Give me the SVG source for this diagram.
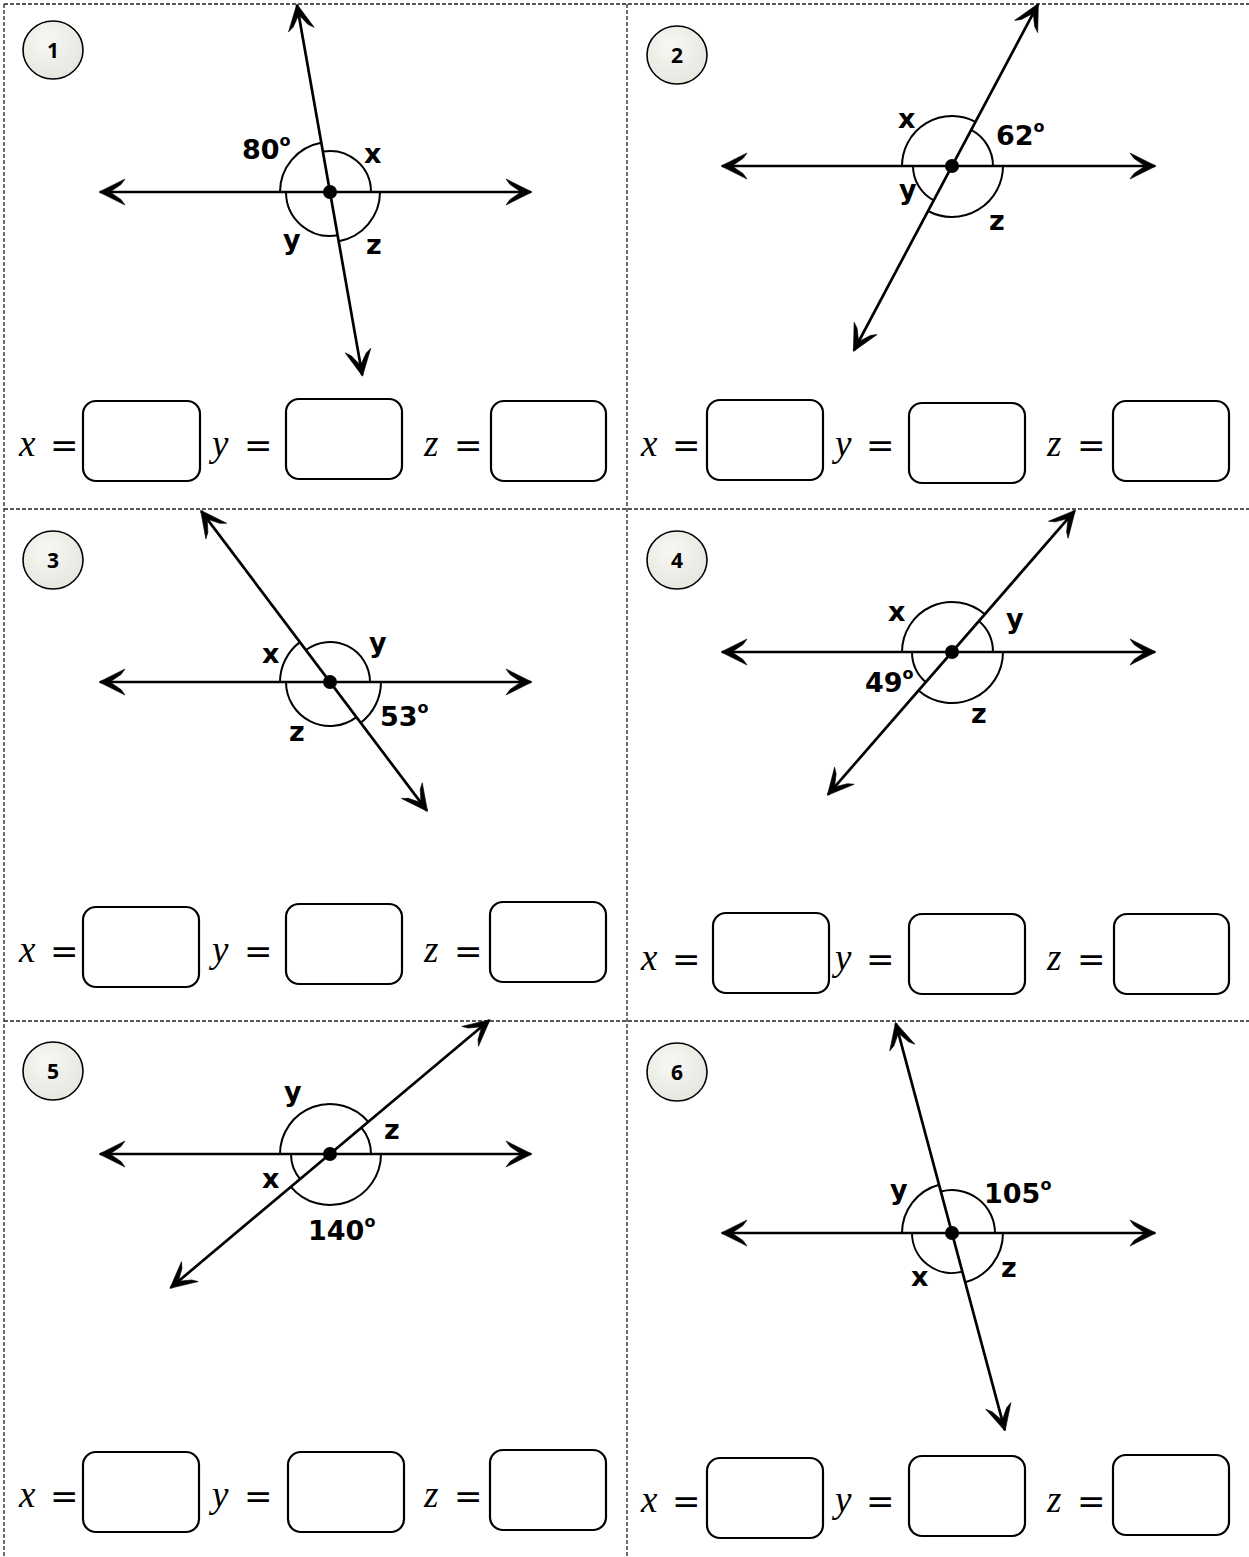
<svg xmlns="http://www.w3.org/2000/svg" width="1249" height="1557" viewBox="0 0 1249 1557">
<defs>
<marker id="ah" viewBox="-28 -15 30 30" markerWidth="30" markerHeight="30" refX="0" refY="0" orient="auto-start-reverse" markerUnits="userSpaceOnUse">
<path d="M1,0 L-25,-13 L-21,-7.5 L-10,0 L-21,7.5 L-25,13 Z" fill="#000" stroke="#000" stroke-width="0.6" stroke-linejoin="round"/>
</marker>
<radialGradient id="cg" cx="0.4" cy="0.35" r="0.7">
<stop offset="0" stop-color="#f7f7f4"/>
<stop offset="1" stop-color="#e6e6df"/>
</radialGradient>
</defs>
<style>
.bd{stroke:#222;stroke-width:1.3;stroke-dasharray:4 2;fill:none}
.ln{stroke:#000;stroke-width:2.7;fill:none;marker-start:url(#ah);marker-end:url(#ah)}
.arc{stroke:#000;stroke-width:2;fill:none}
.dot{fill:#000}
.lb{font-family:"DejaVu Sans",sans-serif;font-weight:bold;font-size:27px;fill:#000}
.sup{font-size:16px}
.num{font-family:"Open Sans","DejaVu Sans",sans-serif;font-weight:bold;font-size:21px;text-anchor:middle;fill:#000}
.nc{fill:url(#cg);stroke:#000;stroke-width:1.6}
.v{font-family:"Liberation Serif",serif;font-style:italic;font-size:37px;fill:#000}
.eq{font-family:"DejaVu Serif",serif;font-size:34px;fill:#000}
.bx{fill:#fff;stroke:#000;stroke-width:2.2}
</style>
<rect width="1249" height="1557" fill="#fff"/>
<g id="borders">
<path class="bd" d="M4,4 H1249 M4,4 V1557 M627,4 V1557 M4,509 H1249 M4,1021 H1249"/>
</g>

<g id="connectors">
<line class="ln" x1="100" y1="192" x2="531" y2="192"/>
<line class="ln" x1="297" y1="5" x2="362.3" y2="375.2"/>
<line class="ln" x1="722" y1="166" x2="1155" y2="166"/>
<line class="ln" x1="1037.9" y1="4.4" x2="853.9" y2="350.5"/>
<line class="ln" x1="100" y1="682" x2="531" y2="682"/>
<line class="ln" x1="201.2" y1="511.1" x2="426.9" y2="810.6"/>
<line class="ln" x1="722" y1="652" x2="1155" y2="652"/>
<line class="ln" x1="1074.7" y1="510.9" x2="828" y2="794.6"/>
<line class="ln" x1="100" y1="1154" x2="531" y2="1154"/>
<line class="ln" x1="489.3" y1="1020.3" x2="170.7" y2="1287.7"/>
<line class="ln" x1="722" y1="1233" x2="1155" y2="1233"/>
<line class="ln" x1="895.8" y1="1023.4" x2="1004.8" y2="1430.1"/>
</g>

<g id="panel1">
<ellipse class="nc" cx="53" cy="50" rx="30" ry="29"/>
<text class="num" x="53" y="58">1</text>
<path class="arc" d="M280,192 A50,50 0 0 1 321.3,142.8"/>
<path class="arc" d="M322.9,151.6 A41,41 0 0 1 371,192"/>
<path class="arc" d="M286,192 A44,44 0 0 0 337.6,235.3"/>
<path class="arc" d="M338.7,241.2 A50,50 0 0 0 380,192"/>
<circle class="dot" cx="330" cy="192" r="7"/>
<text class="lb" x="242" y="159">80<tspan class="sup" dy="-13">o</tspan></text>
<text class="lb" x="364" y="163">x</text>
<text class="lb" x="283" y="249">y</text>
<text class="lb" x="366" y="254">z</text>
<text class="v" x="19" y="456">x</text><text class="eq" x="50" y="457">=</text>
<rect class="bx" x="83" y="401" width="117" height="80" rx="13"/>
<text class="v" x="212" y="456">y</text><text class="eq" x="244" y="457">=</text>
<rect class="bx" x="286" y="399" width="116" height="80" rx="13"/>
<text class="v" x="424" y="456">z</text><text class="eq" x="454" y="457">=</text>
<rect class="bx" x="491" y="401" width="115" height="80" rx="13"/>
</g>

<g id="panel2">
<ellipse class="nc" cx="677" cy="55" rx="30" ry="29"/>
<text class="num" x="677" y="63">2</text>
<path class="arc" d="M902,166 A50,50 0 0 1 975.5,121.9"/>
<path class="arc" d="M971.2,129.8 A41,41 0 0 1 993,166"/>
<path class="arc" d="M913,166 A39,39 0 0 0 933.7,200.4"/>
<path class="arc" d="M928.1,211 A51,51 0 0 0 1003,166"/>
<circle class="dot" cx="952" cy="166" r="7"/>
<text class="lb" x="898" y="128">x</text>
<text class="lb" x="996" y="145">62<tspan class="sup" dy="-13">o</tspan></text>
<text class="lb" x="899" y="199">y</text>
<text class="lb" x="989" y="230">z</text>
<text class="v" x="641" y="456">x</text><text class="eq" x="672" y="457">=</text>
<rect class="bx" x="707" y="400" width="116" height="80" rx="13"/>
<text class="v" x="835" y="456">y</text><text class="eq" x="866" y="457">=</text>
<rect class="bx" x="909" y="403" width="116" height="80" rx="13"/>
<text class="v" x="1047" y="456">z</text><text class="eq" x="1077" y="457">=</text>
<rect class="bx" x="1113" y="401" width="116" height="80" rx="13"/>
</g>

<g id="panel3">
<ellipse class="nc" cx="53" cy="560" rx="30" ry="29"/>
<text class="num" x="53" y="568">3</text>
<path class="arc" d="M280,682 A50,50 0 0 1 299.9,642.1"/>
<path class="arc" d="M305.9,650.05 A40,40 0 0 1 370,682"/>
<path class="arc" d="M286,682 A44,44 0 0 0 356.5,717.1"/>
<path class="arc" d="M360.7,722.7 A51,51 0 0 0 381,682"/>
<circle class="dot" cx="330" cy="682" r="7"/>
<text class="lb" x="262" y="663">x</text>
<text class="lb" x="369" y="652">y</text>
<text class="lb" x="380" y="726">53<tspan class="sup" dy="-13">o</tspan></text>
<text class="lb" x="289" y="741">z</text>
<text class="v" x="19" y="962">x</text><text class="eq" x="50" y="963">=</text>
<rect class="bx" x="83" y="907" width="116" height="80" rx="13"/>
<text class="v" x="212" y="962">y</text><text class="eq" x="244" y="963">=</text>
<rect class="bx" x="286" y="904" width="116" height="80" rx="13"/>
<text class="v" x="424" y="962">z</text><text class="eq" x="454" y="963">=</text>
<rect class="bx" x="490" y="902" width="116" height="80" rx="13"/>
</g>

<g id="panel4">
<ellipse class="nc" cx="677" cy="560" rx="30" ry="29"/>
<text class="num" x="677" y="568">4</text>
<path class="arc" d="M902,652 A50,50 0 0 1 984.8,614.3"/>
<path class="arc" d="M978.9,621.1 A41,41 0 0 1 993,652"/>
<path class="arc" d="M912,652 A40,40 0 0 0 925.8,682.2"/>
<path class="arc" d="M918.5,690.5 A51,51 0 0 0 1003,652"/>
<circle class="dot" cx="952" cy="652" r="7"/>
<text class="lb" x="888" y="621">x</text>
<text class="lb" x="1006" y="628">y</text>
<text class="lb" x="865" y="692">49<tspan class="sup" dy="-13">o</tspan></text>
<text class="lb" x="971" y="723">z</text>
<text class="v" x="641" y="970">x</text><text class="eq" x="672" y="971">=</text>
<rect class="bx" x="713" y="913" width="116" height="80" rx="13"/>
<text class="v" x="835" y="970">y</text><text class="eq" x="866" y="971">=</text>
<rect class="bx" x="909" y="914" width="116" height="80" rx="13"/>
<text class="v" x="1047" y="970">z</text><text class="eq" x="1077" y="971">=</text>
<rect class="bx" x="1114" y="914" width="115" height="80" rx="13"/>
</g>

<g id="panel5">
<ellipse class="nc" cx="53" cy="1071" rx="30" ry="29"/>
<text class="num" x="53" y="1079">5</text>
<path class="arc" d="M280,1154 A50,50 0 0 1 368.3,1121.9"/>
<path class="arc" d="M361.4,1127.6 A41,41 0 0 1 371,1154"/>
<path class="arc" d="M291,1154 A39,39 0 0 0 300.1,1179.1"/>
<path class="arc" d="M290.9,1186.8 A51,51 0 0 0 381,1154"/>
<circle class="dot" cx="330" cy="1154" r="7"/>
<text class="lb" x="284" y="1101">y</text>
<text class="lb" x="384" y="1139">z</text>
<text class="lb" x="262" y="1188">x</text>
<text class="lb" x="308" y="1240">140<tspan class="sup" dy="-13">o</tspan></text>
<text class="v" x="19" y="1507">x</text><text class="eq" x="50" y="1508">=</text>
<rect class="bx" x="83" y="1452" width="116" height="80" rx="13"/>
<text class="v" x="212" y="1507">y</text><text class="eq" x="244" y="1508">=</text>
<rect class="bx" x="288" y="1452" width="116" height="80" rx="13"/>
<text class="v" x="424" y="1507">z</text><text class="eq" x="454" y="1508">=</text>
<rect class="bx" x="490" y="1450" width="116" height="80" rx="13"/>
</g>

<g id="panel6">
<ellipse class="nc" cx="677" cy="1072" rx="30" ry="29"/>
<text class="num" x="677" y="1080">6</text>
<path class="arc" d="M902,1233 A50,50 0 0 1 939.1,1184.7"/>
<path class="arc" d="M940.9,1191.5 A43,43 0 0 1 995,1233"/>
<path class="arc" d="M912,1233 A40,40 0 0 0 962.4,1271.6"/>
<path class="arc" d="M965.2,1282.3 A51,51 0 0 0 1003,1233"/>
<circle class="dot" cx="952" cy="1233" r="7"/>
<text class="lb" x="890" y="1199">y</text>
<text class="lb" x="984" y="1203">105<tspan class="sup" dy="-13">o</tspan></text>
<text class="lb" x="911" y="1286">x</text>
<text class="lb" x="1001" y="1277">z</text>
<text class="v" x="641" y="1512">x</text><text class="eq" x="672" y="1513">=</text>
<rect class="bx" x="707" y="1458" width="116" height="80" rx="13"/>
<text class="v" x="835" y="1512">y</text><text class="eq" x="866" y="1513">=</text>
<rect class="bx" x="909" y="1456" width="116" height="80" rx="13"/>
<text class="v" x="1047" y="1512">z</text><text class="eq" x="1077" y="1513">=</text>
<rect class="bx" x="1113" y="1455" width="116" height="80" rx="13"/>
</g>
</svg>
